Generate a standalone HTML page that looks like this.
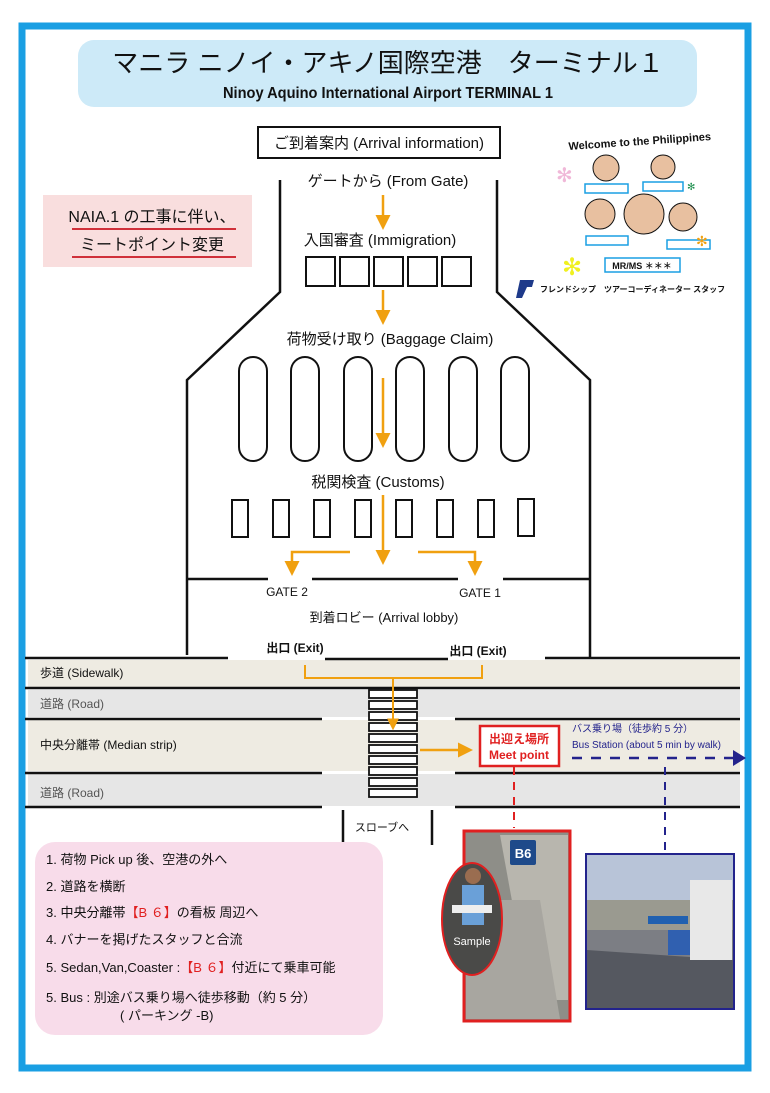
<!DOCTYPE html>
<html><head><meta charset="utf-8"><style>
html,body{margin:0;padding:0;background:#fff;}
svg{display:block;}
text{font-family:"Liberation Sans","Noto Sans CJK JP",sans-serif;}
</style></head><body>
<svg width="770" height="1093" viewBox="0 0 770 1093" xmlns="http://www.w3.org/2000/svg">
<defs>
<marker id="oa" viewBox="0 0 10 10" refX="8" refY="5" markerWidth="6" markerHeight="6" orient="auto" markerUnits="strokeWidth"><path d="M0,0 L10,5 L0,10z" fill="#f0a010"/></marker>
</defs>
<rect x="0" y="0" width="770" height="1093" fill="#fff"/>
<!-- frame -->
<rect x="22" y="26" width="726" height="1042" fill="none" stroke="#1a9fe3" stroke-width="7"/>
<!-- title -->
<rect x="78" y="40" width="619" height="67" rx="16" fill="#cdeaf8"/>
<text x="388" y="72" font-size="26" text-anchor="middle" fill="#111">マニラ ニノイ・アキノ国際空港　ターミナル１</text>
<text x="388" y="98" font-size="16" font-weight="bold" text-anchor="middle" fill="#111" textLength="330" lengthAdjust="spacingAndGlyphs">Ninoy Aquino International Airport TERMINAL  1</text>
<!-- notice -->
<rect x="43" y="195" width="209" height="72" fill="#f9dede"/>
<text x="152" y="222" font-size="16" text-anchor="middle" fill="#111">NAIA.1 の工事に伴い、</text>
<line x1="72" y1="229" x2="236" y2="229" stroke="#d0303a" stroke-width="2"/>
<text x="152" y="250" font-size="16" text-anchor="middle" fill="#111">ミートポイント変更</text>
<line x1="72" y1="257" x2="236" y2="257" stroke="#d0303a" stroke-width="2"/>
<!-- arrival info -->
<rect x="258" y="127" width="242" height="31" fill="#fff" stroke="#111" stroke-width="2"/>
<text x="379" y="148" font-size="15" text-anchor="middle" fill="#111">ご到着案内 (Arrival information)</text>
<!-- walls -->
<polyline points="280,180 280,292 187,380 187,655" fill="none" stroke="#111" stroke-width="2.5"/>
<polyline points="497,180 497,292 590,380 590,658" fill="none" stroke="#111" stroke-width="2.5"/>
<text x="388" y="186" font-size="15" text-anchor="middle" fill="#111">ゲートから (From Gate)</text>
<line x1="383" y1="195" x2="383" y2="227" stroke="#f0a010" stroke-width="2.5" marker-end="url(#oa)"/>
<text x="380" y="245" font-size="15" text-anchor="middle" fill="#111">入国審査 (Immigration)</text>
<g fill="#fff" stroke="#111" stroke-width="2">
<rect x="306" y="257" width="29" height="29"/><rect x="340" y="257" width="29" height="29"/><rect x="374" y="257" width="29" height="29"/><rect x="408" y="257" width="29" height="29"/><rect x="442" y="257" width="29" height="29"/>
</g>
<line x1="383" y1="290" x2="383" y2="322" stroke="#f0a010" stroke-width="2.5" marker-end="url(#oa)"/>
<text x="390" y="344" font-size="15" text-anchor="middle" fill="#111">荷物受け取り (Baggage Claim)</text>
<g fill="#fff" stroke="#111" stroke-width="2">
<rect x="239" y="357" width="28" height="104" rx="14"/><rect x="291" y="357" width="28" height="104" rx="14"/><rect x="344" y="357" width="28" height="104" rx="14"/><rect x="396" y="357" width="28" height="104" rx="14"/><rect x="449" y="357" width="28" height="104" rx="14"/><rect x="501" y="357" width="28" height="104" rx="14"/>
</g>
<line x1="383" y1="378" x2="383" y2="445" stroke="#f0a010" stroke-width="2.5" marker-end="url(#oa)"/>
<text x="378" y="487" font-size="15" text-anchor="middle" fill="#111">税関検査 (Customs)</text>
<g fill="#fff" stroke="#111" stroke-width="2">
<rect x="232" y="500" width="16" height="37"/><rect x="273" y="500" width="16" height="37"/><rect x="314" y="500" width="16" height="37"/><rect x="355" y="500" width="16" height="37"/><rect x="396" y="500" width="16" height="37"/><rect x="437" y="500" width="16" height="37"/><rect x="478" y="500" width="16" height="37"/><rect x="518" y="499" width="16" height="37"/>
</g>
<line x1="383" y1="495" x2="383" y2="562" stroke="#f0a010" stroke-width="2.5" marker-end="url(#oa)"/>
<polyline points="350,552 292,552 292,573" fill="none" stroke="#f0a010" stroke-width="2.5" marker-end="url(#oa)"/>
<polyline points="418,552 475,552 475,573" fill="none" stroke="#f0a010" stroke-width="2.5" marker-end="url(#oa)"/>
<g stroke="#111" stroke-width="2.5">
<line x1="187" y1="579" x2="268" y2="579"/><line x1="312" y1="579" x2="458" y2="579"/><line x1="503" y1="579" x2="590" y2="579"/>
</g>
<text x="287" y="596" font-size="12" text-anchor="middle" fill="#111">GATE 2</text>
<text x="480" y="597" font-size="12" text-anchor="middle" fill="#111">GATE 1</text>
<text x="384" y="622" font-size="13" text-anchor="middle" fill="#111">到着ロビー (Arrival lobby)</text>
<!-- bands -->
<rect x="28" y="660" width="712" height="27" fill="#eeebe2"/>
<rect x="28" y="690" width="712" height="27" fill="#e6e6e6"/>
<rect x="28" y="720" width="712" height="51" fill="#eeebe2"/>
<rect x="28" y="774" width="712" height="32" fill="#e6e6e6"/>
<g stroke="#111" stroke-width="2.5">
<line x1="25" y1="658" x2="228" y2="658"/><line x1="325" y1="659" x2="448" y2="659"/><line x1="545" y1="658" x2="740" y2="658"/>
<line x1="25" y1="688" x2="740" y2="688"/>
<line x1="25" y1="719" x2="322" y2="719"/><line x1="455" y1="719" x2="740" y2="719"/>
<line x1="25" y1="773" x2="322" y2="773"/><line x1="455" y1="773" x2="740" y2="773"/>
<line x1="25" y1="807" x2="322" y2="807"/><line x1="455" y1="807" x2="740" y2="807"/>
<line x1="343" y1="810" x2="343" y2="845"/><line x1="432" y1="810" x2="432" y2="845"/>
</g>
<text x="295" y="652" font-size="12" text-anchor="middle" fill="#111" font-weight="bold">出口 (Exit)</text>
<text x="478" y="655" font-size="12" text-anchor="middle" fill="#111" font-weight="bold">出口 (Exit)</text>
<text x="40" y="677" font-size="12" fill="#111">歩道 (Sidewalk)</text>
<text x="40" y="708" font-size="12" fill="#555">道路 (Road)</text>
<text x="40" y="749" font-size="12" fill="#111">中央分離帯 (Median strip)</text>
<text x="40" y="797" font-size="12" fill="#555">道路 (Road)</text>
<!-- crosswalk -->
<g fill="#fff" stroke="#111" stroke-width="1.8">
<rect x="369" y="690" width="48" height="8"/><rect x="369" y="701" width="48" height="8"/><rect x="369" y="712" width="48" height="8"/><rect x="369" y="723" width="48" height="8"/><rect x="369" y="734" width="48" height="8"/><rect x="369" y="745" width="48" height="8"/><rect x="369" y="756" width="48" height="8"/><rect x="369" y="767" width="48" height="8"/><rect x="369" y="778" width="48" height="8"/><rect x="369" y="789" width="48" height="8"/>
</g>
<polyline points="305,665 305,678 482,678 482,665" fill="none" stroke="#f0a010" stroke-width="2"/>
<line x1="393" y1="678" x2="393" y2="728" stroke="#f0a010" stroke-width="2" marker-end="url(#oa)"/>
<line x1="420" y1="750" x2="470" y2="750" stroke="#f0a010" stroke-width="2.5" marker-end="url(#oa)"/>
<!-- meet point -->
<rect x="480" y="726" width="79" height="40" fill="#fff" stroke="#e02020" stroke-width="2.5"/>
<text x="519" y="743" font-size="12" font-weight="bold" text-anchor="middle" fill="#e02020">出迎え場所</text>
<text x="519" y="759" font-size="12" font-weight="bold" text-anchor="middle" fill="#e02020">Meet point</text>
<text x="572" y="732" font-size="10" fill="#23238c">バス乗り場（徒歩約 5 分）</text>
<text x="572" y="748" font-size="10" fill="#23238c">Bus Station (about 5 min by walk)</text>
<line x1="572" y1="758" x2="733" y2="758" stroke="#23238c" stroke-width="2.5" stroke-dasharray="10,9"/>
<path d="M733,750 L746,758 L733,766z" fill="#23238c"/>
<line x1="514" y1="767" x2="514" y2="828" stroke="#e02020" stroke-width="2" stroke-dasharray="8,7"/>
<line x1="665" y1="767" x2="665" y2="853" stroke="#23238c" stroke-width="2" stroke-dasharray="8,7"/>
<text x="382" y="831" font-size="11" text-anchor="middle" fill="#111">スローブへ</text>
<!-- instructions -->
<rect x="35" y="842" width="348" height="193" rx="20" fill="#f8dcea"/>
<g font-size="13" fill="#111">
<text x="46" y="864">1. 荷物 Pick up 後、空港の外へ</text>
<text x="46" y="891">2. 道路を横断</text>
<text x="46" y="917">3. 中央分離帯<tspan fill="#e02020">【B ６】</tspan>の看板 周辺へ</text>
<text x="46" y="944">4. バナーを掲げたスタッフと合流</text>
<text x="46" y="972">5. Sedan,Van,Coaster :<tspan fill="#e02020">【B ６】</tspan>付近にて乗車可能</text>
<text x="46" y="1002">5. Bus : 別途バス乗り場へ徒歩移動（約 5 分）</text>
<text x="120" y="1020">( パーキング -B)</text>
</g>
<!-- photo red -->
<rect x="464" y="831" width="106" height="190" fill="#8e8e88" stroke="#e02020" stroke-width="3"/>
<path d="M500,835 L568,835 L568,1000 L530,1000 Z" fill="#b8b6ae"/>
<path d="M466,900 L540,900 L560,1019 L466,1019Z" fill="#a8a6a0"/>
<rect x="510" y="840" width="26" height="25" rx="2" fill="#1e4a8a"/>
<text x="523" y="858" font-size="13" font-weight="bold" text-anchor="middle" fill="#fff">B6</text>
<ellipse cx="472" cy="919" rx="30" ry="56" fill="#4a4a48" stroke="#e02020" stroke-width="2"/>
<rect x="462" y="885" width="22" height="40" fill="#6aa0d8"/>
<circle cx="473" cy="876" r="8" fill="#9a6d50"/>
<rect x="452" y="905" width="40" height="8" fill="#eee"/>
<text x="472" y="945" font-size="11" text-anchor="middle" fill="#fff">Sample</text>
<!-- photo blue -->
<rect x="586" y="854" width="148" height="155" fill="#7c7e84" stroke="#23238c" stroke-width="2"/>
<rect x="587" y="855" width="146" height="45" fill="#b8c4d8"/>
<rect x="587" y="900" width="146" height="30" fill="#9a9a90"/>
<path d="M587,950 L733,960 L733,1008 L587,1008Z" fill="#555860"/>
<rect x="690" y="880" width="42" height="80" fill="#e8e8e8"/>
<rect x="668" y="930" width="22" height="25" fill="#3060b0"/>
<rect x="648" y="916" width="40" height="8" fill="#2060b0"/>
<!-- logo area -->
<text x="640" y="145" font-size="11" font-weight="bold" text-anchor="middle" fill="#111" transform="rotate(-4 640 145)">Welcome to the Philippines</text>
<g stroke="#111" stroke-width="1">
<circle cx="606" cy="168" r="13" fill="#e8c0a0"/>
<circle cx="663" cy="167" r="12" fill="#e8c0a0"/>
<circle cx="600" cy="214" r="15" fill="#e8c0a0"/>
<circle cx="644" cy="214" r="20" fill="#e8c0a0"/>
<circle cx="683" cy="217" r="14" fill="#e8c0a0"/>
</g>
<g fill="#fff" stroke="#1a9fe3" stroke-width="1.5">
<rect x="585" y="184" width="43" height="9"/><rect x="643" y="182" width="40" height="9"/><rect x="586" y="236" width="42" height="9"/><rect x="667" y="240" width="43" height="9"/><rect x="605" y="258" width="75" height="14"/>
</g>
<text x="642" y="269" font-size="9" font-weight="bold" text-anchor="middle" fill="#111">MR/MS ＊＊＊</text>
<text x="556" y="182" font-size="20" fill="#f0b8d8">✻</text>
<text x="562" y="275" font-size="24" fill="#f0f020">✻</text>
<text x="696" y="246" font-size="14" fill="#f0a010">✻</text>
<text x="687" y="190" font-size="10" fill="#209050">✻</text>
<path d="M520,280 L534,280 L532,287 L527,287 L522,298 L516,298 Z" fill="#1e3a8a"/>
<text x="540" y="292" font-size="8" font-weight="bold" fill="#111">フレンドシップ　ツアーコーディネーター スタッフ</text>
</svg>
</body></html>
